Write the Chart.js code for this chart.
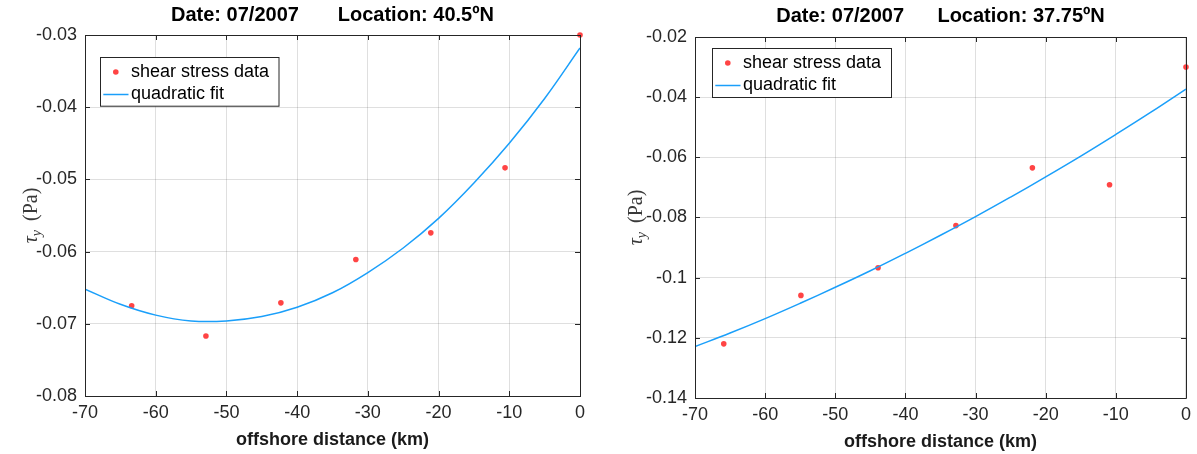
<!DOCTYPE html>
<html><head><meta charset="utf-8">
<script src="https://cdn.jsdelivr.net/npm/chart.js@4.4.1/dist/chart.umd.min.js"></script>
<style>
html,body{margin:0;padding:0;background:#fff;}
#wrap{position:relative;width:1197px;height:454px;overflow:hidden;background:#fff;}
#c1{position:absolute;left:0;top:0;}
#c2{position:absolute;left:600px;top:0;}
</style></head><body>
<div id="wrap"><canvas id="c1" width="600" height="454"></canvas><canvas id="c2" width="597" height="454"></canvas></div>
<script>
// ---- data: left panel (40.5ºN) ----
const distLeft   = [-63.4, -52.9, -42.3, -31.7, -21.1, -10.6, 0];
const stressLeft = [-0.0675, -0.0717, -0.0671, -0.0611, -0.0574, -0.0484, -0.0300];
const fitDistLeft   = [-70, -65, -60, -55, -50, -45, -40, -35, -30, -25, -20, -15, -10, -5, 0];
const fitStressLeft = [-0.0652, -0.0673, -0.0688, -0.0696, -0.0696, -0.0690, -0.0677, -0.0657, -0.0629, -0.0595, -0.0554, -0.0505, -0.0450, -0.0388, -0.0318];
const yTickValsLeft   = [-0.08, -0.07, -0.06, -0.05, -0.04, -0.03];
const yTickLabelsLeft = ['-0.08', '-0.07', '-0.06', '-0.05', '-0.04', '-0.03'];
const titleLeft = 'Date: 07/2007' + '\u00A0'.repeat(7) + 'Location: 40.5ºN';

// ---- data: right panel (37.75ºN) ----
const distRight   = [-65.9, -54.9, -43.9, -32.8, -21.9, -10.9, 0];
const stressRight = [-0.1220, -0.1059, -0.0967, -0.0827, -0.0635, -0.0691, -0.0300];
const fitDistRight   = [-70, -65, -60, -55, -50, -45, -40, -35, -30, -25, -20, -15, -10, -5, 0];
const fitStressRight = [-0.1229, -0.1184, -0.1136, -0.1085, -0.1032, -0.0977, -0.0919, -0.0859, -0.0797, -0.0732, -0.0665, -0.0596, -0.0524, -0.0450, -0.0373];
const yTickValsRight   = [-0.14, -0.12, -0.10, -0.08, -0.06, -0.04, -0.02];
const yTickLabelsRight = ['-0.14', '-0.12', '-0.1', '-0.08', '-0.06', '-0.04', '-0.02'];
const titleRight = 'Date: 07/2007' + '\u00A0'.repeat(6) + 'Location: 37.75ºN';

// ---- shared ----
const xTickVals   = [-70, -60, -50, -40, -30, -20, -10, 0];
const xTickLabels = ['-70', '-60', '-50', '-40', '-30', '-20', '-10', '0'];
const xTitle = 'offshore distance (km)';
const seriesNames = ['shear stress data', 'quadratic fit'];

const SANS = '"Liberation Sans", Arial, Helvetica, sans-serif';
const SERIF = '"Liberation Serif", "Times New Roman", serif';
const AX = '#262626';
const RED = '#ff4444';
const BLUE = '#1a9ffa';
const GRID = 'rgba(38,38,38,0.15)';

const matlabBox = {
  id: 'matlabBox',
  afterDraw(chart, args, o) {
    const {ctx, chartArea: a} = chart;
    const x = chart.scales.x, y = chart.scales.y;
    ctx.save();
    // title centred on the axes
    ctx.fillStyle = '#000';
    ctx.font = 'bold 20px ' + SANS;
    ctx.textAlign = 'center'; ctx.textBaseline = 'middle';
    ctx.fillText(o.title, (a.left + a.right) / 2, o.titleY);
    // box
    ctx.strokeStyle = AX; ctx.lineWidth = 1;
    ctx.beginPath();
    ctx.rect(Math.round(a.left) + 0.5, Math.round(a.top) + 0.5, Math.round(a.right) - Math.round(a.left), Math.round(a.bottom) - Math.round(a.top));
    ctx.stroke();
    // inward ticks
    const tl = 5;
    ctx.beginPath();
    x.ticks.forEach(t => {
      const px = Math.round(x.getPixelForValue(t.value)) + 0.5;
      ctx.moveTo(px, a.top); ctx.lineTo(px, a.top + tl);
      ctx.moveTo(px, a.bottom); ctx.lineTo(px, a.bottom - tl);
    });
    y.ticks.forEach(t => {
      const py = Math.round(y.getPixelForValue(t.value)) + 0.5;
      ctx.moveTo(a.left, py); ctx.lineTo(a.left + tl, py);
      ctx.moveTo(a.right, py); ctx.lineTo(a.right - tl, py);
    });
    ctx.stroke();
    // legend
    const L = o.legend;
    const lx = Math.round(a.left + L.dx) + 0.5, ly = Math.round(a.top + L.dy) + 0.5;
    ctx.fillStyle = '#fff';
    ctx.fillRect(lx, ly, L.w, L.h);
    ctx.strokeStyle = AX; ctx.lineWidth = 1;
    ctx.strokeRect(lx, ly, L.w, L.h);
    const ds = chart.data.datasets;
    ctx.font = '18px ' + SANS;
    ctx.textBaseline = 'middle'; ctx.textAlign = 'left';
    ctx.beginPath();
    ctx.fillStyle = ds[0].backgroundColor;
    ctx.arc(lx + 15.3, ly + 14.5, 2.8, 0, Math.PI * 2);
    ctx.fill();
    ctx.fillStyle = '#000';
    ctx.fillText(ds[0].label, lx + 30.5, ly + 14.5);
    ctx.strokeStyle = ds[1].borderColor; ctx.lineWidth = 1.5;
    ctx.beginPath();
    ctx.moveTo(lx + 2.8, ly + 37); ctx.lineTo(lx + 28, ly + 37);
    ctx.stroke();
    ctx.fillText(ds[1].label, lx + 30.5, ly + 37);
    // y-axis title: tau_y (Pa)
    ctx.translate(o.yTitleX, (a.top + a.bottom) / 2);
    ctx.rotate(-Math.PI / 2);
    ctx.fillStyle = '#3a3a3a';
    ctx.textBaseline = 'alphabetic'; ctx.textAlign = 'left';
    const f1 = 'italic 20px ' + SERIF, f2 = 'italic 14px ' + SERIF, f3 = '20px ' + SERIF;
    ctx.font = f1; const w1 = ctx.measureText('\u03C4').width;
    ctx.font = f2; const w2 = ctx.measureText('y').width;
    ctx.font = f3; const w3 = ctx.measureText('(Pa)').width;
    const gap = 9;
    const tot = w1 + w2 + gap + w3;
    let cx = -tot / 2;
    const base = 6;
    ctx.font = f1; ctx.fillText('\u03C4', cx, base); cx += w1;
    ctx.font = f2; ctx.fillText('y', cx, base + 4); cx += w2 + gap;
    ctx.font = f3; ctx.fillText('(Pa)', cx, base);
    ctx.restore();
  }
};

function makeChart(id, cfg) {
  const scatterPts = cfg.dx.map((v, i) => ({x: v, y: cfg.dy[i]}));
  const fitPts = cfg.fx.map((v, i) => ({x: v, y: cfg.fy[i]}));
  return new Chart(document.getElementById(id), {
    type: 'scatter',
    data: {
      datasets: [
        {label: seriesNames[0], data: scatterPts, backgroundColor: RED, borderColor: RED,
         pointRadius: 2.8, pointBorderWidth: 0, showLine: false, order: 2, clip: false},
        {label: seriesNames[1], data: fitPts, type: 'line', borderColor: BLUE, backgroundColor: BLUE,
         borderWidth: 1.5, pointRadius: 0, tension: 0.4, fill: false, order: 1}
      ]
    },
    options: {
      responsive: false, animation: false, devicePixelRatio: 1,
      layout: {padding: {left: 0, right: cfg.padRight, top: cfg.padTop, bottom: 0}},
      plugins: {
        legend: {display: false}, tooltip: {enabled: false}, title: {display: false},
        matlabBox: {legend: cfg.legend, yTitleX: cfg.yTitleX, title: cfg.title, titleY: cfg.titleY}
      },
      scales: {
        x: {
          type: 'linear', position: 'bottom', min: -70, max: 0,
          afterBuildTicks: s => { s.ticks = xTickVals.map(v => ({value: v})); },
          afterFit: s => { s.height = cfg.xAxisH; },
          ticks: {color: AX, font: {family: SANS, size: 18}, padding: 6, maxRotation: 0,
                  callback: (v, i) => xTickLabels[i]},
          grid: {color: GRID, lineWidth: 1, drawTicks: false},
          border: {display: true, color: AX, width: 1},
          title: {display: true, text: xTitle, color: '#1a1a1a',
                  font: {family: SANS, size: 18, weight: 'bold'}, padding: {top: 0, bottom: cfg.xTitlePadBottom}}
        },
        y: {
          type: 'linear', position: 'left', min: cfg.yMin, max: cfg.yMax,
          afterBuildTicks: s => { s.ticks = cfg.yVals.map(v => ({value: v})); },
          afterFit: s => { s.width = cfg.yAxisW; },
          ticks: {color: AX, font: {family: SANS, size: 18}, padding: 8,
                  callback: (v, i) => cfg.yLabels[i]},
          grid: {color: GRID, lineWidth: 1, drawTicks: false},
          border: {display: true, color: AX, width: 1}
        }
      }
    },
    plugins: [matlabBox]
  });
}

makeChart('c1', {
  dx: distLeft, dy: stressLeft, fx: fitDistLeft, fy: fitStressLeft,
  yVals: yTickValsLeft, yLabels: yTickLabelsLeft, yMin: -0.08, yMax: -0.03,
  title: titleLeft, titleY: 15, padTop: 35,
  padRight: 20, yAxisW: 85, xAxisH: 58, xTitlePadBottom: 3,
  legend: {dx: 14.5, dy: 22.3, w: 178.5, h: 48.7}, yTitleX: 31
});
makeChart('c2', {
  dx: distRight, dy: stressRight, fx: fitDistRight, fy: fitStressRight,
  yVals: yTickValsRight, yLabels: yTickLabelsRight, yMin: -0.14, yMax: -0.02,
  title: titleRight, titleY: 16, padTop: 37,
  padRight: 7, yAxisW: 95, xAxisH: 56, xTitlePadBottom: 1,
  legend: {dx: 16.6, dy: 11.3, w: 179, h: 49}, yTitleX: 36
});
</script>
</body></html>
